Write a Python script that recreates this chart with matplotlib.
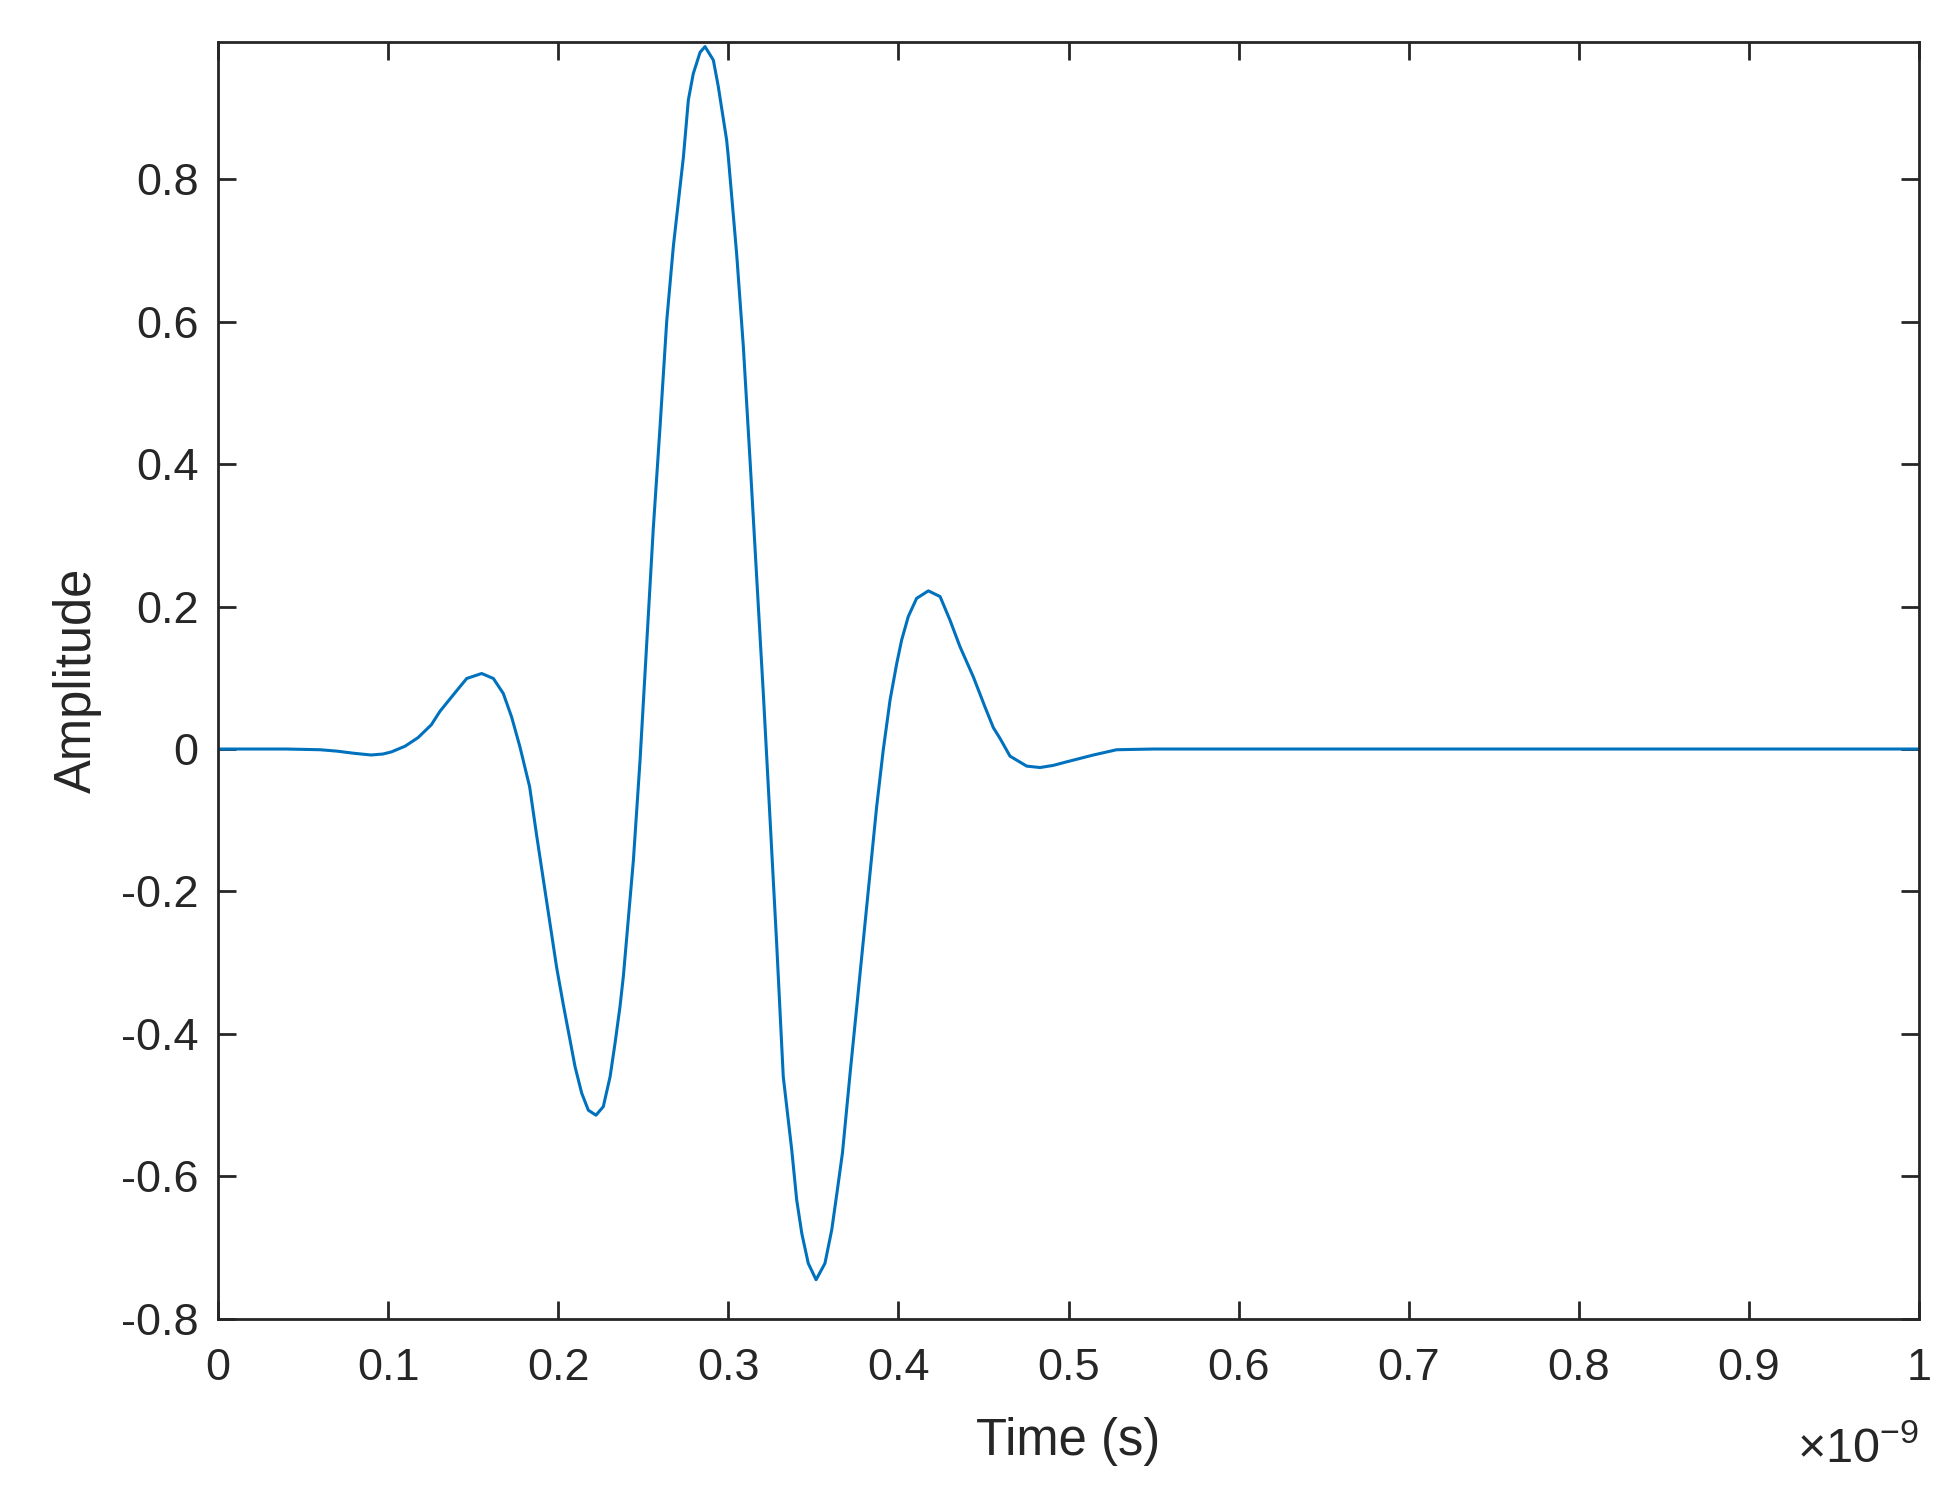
#!/usr/bin/env python3
"""
Plot pulsa (amplitude vs waktu) ala figure MATLAB
"""

import matplotlib
matplotlib.use('Agg')
import matplotlib.pyplot as plt

# waktu dalam satuan 1e-9 s
waktu = [0.000, 0.020, 0.040, 0.060, 0.070, 0.080, 0.090, 0.097, 0.102, 0.110,
         0.1176, 0.1254, 0.1305, 0.1383, 0.1462, 0.1550, 0.1619, 0.1677, 0.1726, 0.1775,
         0.1832, 0.1873, 0.1932, 0.1991, 0.2030, 0.2069, 0.2099, 0.2138, 0.2177, 0.2222,
         0.2265, 0.2305, 0.2334, 0.2363, 0.2383, 0.2442, 0.2481, 0.2520, 0.2559, 0.2598,
         0.2638, 0.2677, 0.2736, 0.2765, 0.2794, 0.2834, 0.2863, 0.2912, 0.2941, 0.2990,
         0.3000, 0.3049, 0.3088, 0.3128, 0.3167, 0.3206, 0.3245, 0.3284, 0.3323, 0.3373,
         0.3402, 0.3432, 0.3470, 0.3516, 0.3568, 0.3608, 0.3641, 0.3671, 0.3716, 0.3755,
         0.3794, 0.3833, 0.3872, 0.3911, 0.3951, 0.3990, 0.4019, 0.4058, 0.4107, 0.4176,
         0.4245, 0.4303, 0.4362, 0.4440, 0.4509, 0.4558, 0.4597, 0.4656, 0.4754, 0.4832,
         0.4910, 0.4989, 0.5146, 0.5283, 0.550, 0.700, 0.850, 1.000]

amplitudo = [0.0, 0.0, 0.0, -0.001, -0.003, -0.006, -0.0084, -0.007, -0.004, 0.004,
             0.016, 0.034, 0.053, 0.076, 0.099, 0.106, 0.099, 0.078, 0.045, 0.003,
             -0.053, -0.121, -0.214, -0.307, -0.359, -0.408, -0.446, -0.483, -0.507, -0.514,
             -0.502, -0.460, -0.413, -0.362, -0.319, -0.156, -0.016, 0.147, 0.310, 0.450,
             0.601, 0.706, 0.831, 0.911, 0.948, 0.978, 0.986, 0.967, 0.930, 0.855,
             0.831, 0.695, 0.566, 0.404, 0.240, 0.077, -0.097, -0.272, -0.460, -0.563,
             -0.633, -0.680, -0.722, -0.745, -0.722, -0.675, -0.619, -0.567, -0.455, -0.362,
             -0.268, -0.1745, -0.081, -0.001, 0.069, 0.120, 0.153, 0.186, 0.2115, 0.222,
             0.214, 0.181, 0.1436, 0.1015, 0.059, 0.030, 0.015, -0.010, -0.024, -0.026,
             -0.023, -0.018, -0.0084, -0.001, 0.0, 0.0, 0.0, 0.0]

xtick_nilai = [0, 0.1, 0.2, 0.3, 0.4, 0.5, 0.6, 0.7, 0.8, 0.9, 1]
xtick_label = ['0', '0.1', '0.2', '0.3', '0.4', '0.5', '0.6', '0.7', '0.8', '0.9', '1']
ytick_nilai = [-0.8, -0.6, -0.4, -0.2, 0, 0.2, 0.4, 0.6, 0.8]
ytick_label = ['-0.8', '-0.6', '-0.4', '-0.2', '0', '0.2', '0.4', '0.6', '0.8']


def main():
    plt.rcParams['font.family'] = ['Liberation Sans', 'DejaVu Sans']
    plt.rcParams['mathtext.fontset'] = 'custom'
    plt.rcParams['mathtext.rm'] = 'Liberation Sans'

    warna_teks = '#262626'
    fig = plt.figure(figsize=(19.57, 14.91), dpi=100)
    ax = fig.add_axes([0.1114, 0.1154, 0.8692, 0.8567])

    ax.plot(waktu, amplitudo, color='#0072BD', linewidth=2.2)

    ax.set_xlim(0, 1)
    ax.set_ylim(-0.8, 0.993)
    ax.set_xticks(xtick_nilai)
    ax.set_xticklabels(xtick_label)
    ax.set_yticks(ytick_nilai)
    ax.set_yticklabels(ytick_label)

    ax.tick_params(direction='in', length=13, width=2, color=warna_teks,
                   labelsize=32.5, labelcolor=warna_teks, top=True, right=True)
    ax.tick_params(axis='x', pad=21)
    ax.tick_params(axis='y', pad=14)
    for sisi in ax.spines.values():
        sisi.set_linewidth(2)
        sisi.set_color(warna_teks)

    ax.set_xlabel('Time (s)', fontsize=36.5, color=warna_teks, labelpad=20)
    ax.set_ylabel('Amplitude', fontsize=36.5, color=warna_teks, labelpad=14)

    # faktor skala sumbu x
    ax.text(1.0, -0.113, r'$\times10^{-9}$', transform=ax.transAxes,
            fontsize=35, color=warna_teks, ha='right', va='baseline')

    fig.savefig('out.png', dpi=100)
    plt.close(fig)


if __name__ == "__main__":
    main()
